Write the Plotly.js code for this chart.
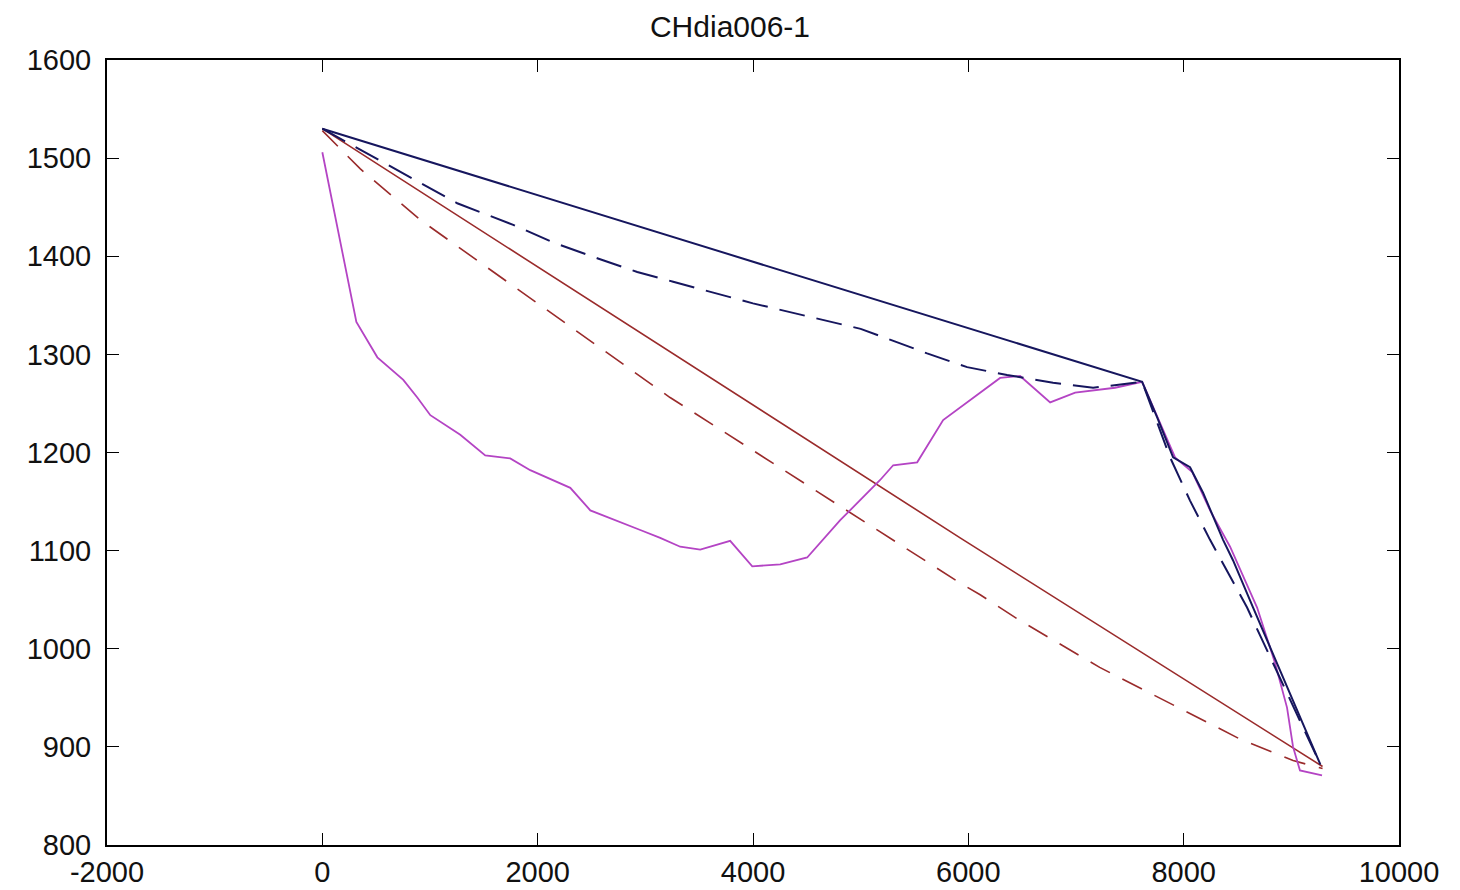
<!DOCTYPE html>
<html>
<head>
<meta charset="utf-8">
<script src="https://cdn.plot.ly/plotly-3.0.1.min.js"></script>
<style>html,body{margin:0;padding:0;background:#fff;}#chart{width:1460px;height:890px;}</style>
</head>
<body>
<div id="chart"></div>
<script>
// ---- data ----
const titleText = "CHdia006-1";

const navySolidX = [0, 7614, 7753, 7902, 8059, 8180, 8366, 8459, 8645, 9270];
const navySolidY = [1530, 1272, 1236, 1195, 1185, 1159, 1111, 1090, 1042, 882];

const navyDashX = [0, 1253, 1773, 2145, 2553, 2925, 3259, 4000, 5000, 5617, 5989, 6360, 6787, 7159, 7614, 7874, 8059, 8245, 8589, 9270];
const navyDashY = [1530, 1454, 1432, 1414, 1398, 1384, 1374, 1352, 1326, 1301, 1287, 1279, 1271, 1266, 1272, 1195, 1151, 1111, 1042, 882];

const redSolidX = [0, 5924, 9290];
const redSolidY = [1530, 1113, 880];

const redDashX = [0, 353, 910, 3230, 3389, 5924, 6110, 6476, 7220, 8523, 9016, 9290];
const redDashY = [1528, 1489, 1437, 1256, 1245, 1067, 1055, 1029, 981, 908, 886, 878];

const magentaX = [0, 316, 511, 752, 882, 1003, 1281, 1513, 1745, 1931, 2303, 2489, 2953, 3138, 3324, 3510, 3788, 3993, 4253, 4503, 4810, 5181, 5302, 5525, 5766, 6110, 6295, 6481, 6760, 6992, 7363, 7614, 7760, 7920, 8080, 8250, 8431, 8682, 8850, 8960, 9016, 9080, 9285];
const magentaY = [1506, 1333, 1297, 1274, 1256, 1238, 1218, 1197, 1194, 1182, 1164, 1141, 1121, 1113, 1104, 1101, 1110, 1084, 1086, 1093, 1131, 1172, 1187, 1190, 1233, 1261, 1276, 1278, 1251, 1261, 1266, 1272, 1235, 1195, 1180, 1140, 1104, 1042, 985, 940, 900, 876, 871];

const xTicks = [-2000, 0, 2000, 4000, 6000, 8000, 10000];
const yTicks = [800, 900, 1000, 1100, 1200, 1300, 1400, 1500, 1600];

// ---- styles ----
const navy = "#16165e";
const red = "#9a2b2b";
const magenta = "#b444c4";

const traces = [
  {x: redSolidX, y: redSolidY, mode: "lines", line: {color: red, width: 1.6}},
  {x: redDashX, y: redDashY, mode: "lines", line: {color: red, width: 1.6, dash: "22px,14px"}},
  {x: magentaX, y: magentaY, mode: "lines", line: {color: magenta, width: 1.8}},
  {x: navyDashX, y: navyDashY, mode: "lines", line: {color: navy, width: 2, dash: "26px,12px"}},
  {x: navySolidX, y: navySolidY, mode: "lines", line: {color: navy, width: 2}}
];

const axisFont = {family: "Liberation Sans, Arial, sans-serif", size: 29, color: "#111"};

const layout = {
  width: 1460, height: 890,
  paper_bgcolor: "#fff", plot_bgcolor: "#fff",
  showlegend: false,
  margin: {l: 107, r: 61, t: 60, b: 45, pad: 0},
  title: {text: titleText, font: {family: "Liberation Sans, Arial, sans-serif", size: 30, color: "#111"},
          x: 0.5, xanchor: "center", y: 1 - 26/890, yanchor: "middle", yref: "container"},
  xaxis: {range: [-2000, 10000], tickvals: xTicks, ticktext: xTicks.map(String),
          showgrid: false, zeroline: false, showline: true, linecolor: "#000", linewidth: 2,
          mirror: "ticks", ticks: "inside", ticklen: 12, tickwidth: 1, tickcolor: "#000",
          tickfont: axisFont, ticklabelstandoff: 0},
  yaxis: {range: [800, 1600], tickvals: yTicks, ticktext: yTicks.map(String),
          showgrid: false, zeroline: false, showline: true, linecolor: "#000", linewidth: 2,
          mirror: "ticks", ticks: "inside", ticklen: 12, tickwidth: 1, tickcolor: "#000",
          tickfont: axisFont, ticklabelstandoff: 8}
};

Plotly.newPlot("chart", traces, layout, {staticPlot: true, displayModeBar: false});
</script>
</body>
</html>
